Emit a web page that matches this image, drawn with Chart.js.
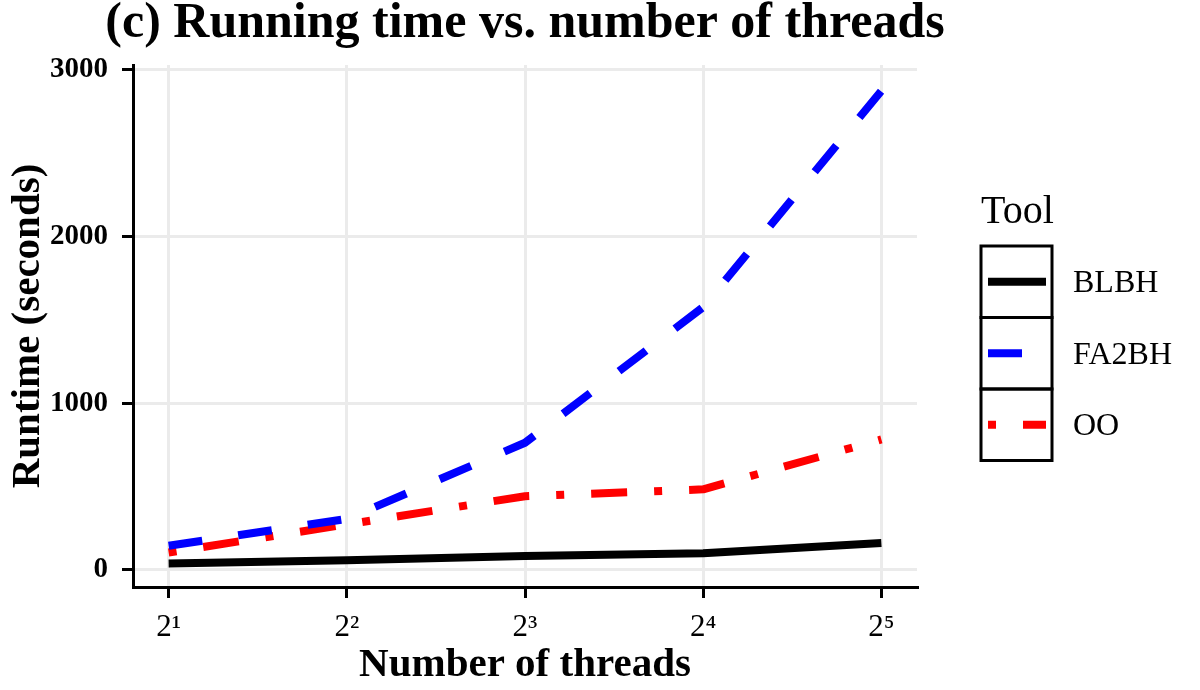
<!DOCTYPE html>
<html>
<head>
  <title>Running time vs. number of threads</title>
  <script src="https://cdn.jsdelivr.net/npm/chart.js"></script>
  <style>
    body { margin: 0; background: #fff; }
  </style>
</head>
<body>
  <canvas id="runtimeChart" width="1200" height="690"></canvas>
  <script>
    // x positions are log2(threads)
    const exponents = [1, 2, 3, 4, 5];
    const tickLabels = ['2\u00B9', '2\u00B2', '2\u00B3', '2\u2074', '2\u2075'];
    const yTicks = [0, 1000, 2000, 3000];

    const blbh = [39, 58, 84, 100, 161];
    const fa2bh = [145, 306, 762, 1575, 2870];
    const oo = [105, 273, 442, 483, 782];

    const serif = '"Liberation Serif", "DejaVu Serif", serif';

    function points(values) {
      return exponents.map((x, i) => ({ x: x, y: values[i] }));
    }

    // title centred over the panel + boxed legend on the right, ggplot style
    const decorPlugin = {
      id: 'decor',
      afterDraw(chart) {
        const ctx = chart.ctx;
        const area = chart.chartArea;
        ctx.save();
        ctx.fillStyle = '#000';
        ctx.textAlign = 'center';
        ctx.textBaseline = 'alphabetic';
        ctx.font = 'bold 50px ' + serif;
        ctx.fillText('(c) Running time vs. number of threads', (area.left + area.right) / 2, 37);

        const left = 981, boxW = 71, boxH = 71.5, top = 246;
        ctx.textAlign = 'left';
        ctx.font = '40px ' + serif;
        ctx.fillText('Tool', left, 223);

        ctx.font = '32px ' + serif;
        ctx.textBaseline = 'middle';
        chart.data.datasets.forEach((ds, i) => {
          const y0 = top + i * boxH;
          ctx.lineWidth = 3;
          ctx.strokeStyle = '#000';
          ctx.setLineDash([]);
          ctx.strokeRect(left, y0, boxW, boxH);

          ctx.beginPath();
          ctx.lineWidth = ds.borderWidth;
          ctx.lineCap = 'butt';
          ctx.strokeStyle = ds.borderColor;
          ctx.setLineDash(ds.borderDash || []);
          ctx.moveTo(left + 7, y0 + boxH / 2);
          ctx.lineTo(left + boxW - 6, y0 + boxH / 2);
          ctx.stroke();

          ctx.setLineDash([]);
          ctx.fillStyle = '#000';
          ctx.fillText(ds.label, 1073, y0 + boxH / 2 + 2);
        });
        ctx.restore();
      }
    };

    new Chart(document.getElementById('runtimeChart').getContext('2d'), {
      type: 'line',
      data: {
        datasets: [
          {
            label: 'BLBH',
            data: points(blbh),
            borderColor: '#000000',
            borderWidth: 8,
            borderDash: []
          },
          {
            label: 'FA2BH',
            data: points(fa2bh),
            borderColor: '#0000FF',
            borderWidth: 8,
            borderDash: [34, 36.3]
          },
          {
            label: 'OO',
            data: points(oo),
            borderColor: '#FF0000',
            borderWidth: 8,
            borderDash: [8, 27, 36, 27]
          }
        ]
      },
      options: {
        responsive: false,
        animation: false,
        layout: { padding: { top: 65, right: 283, bottom: 0, left: 0 } },
        elements: {
          line: { tension: 0, borderCapStyle: 'butt', borderJoinStyle: 'round', fill: false },
          point: { radius: 0, hoverRadius: 0 }
        },
        plugins: {
          legend: { display: false },
          title: { display: false },
          tooltip: { enabled: false }
        },
        scales: {
          x: {
            type: 'linear',
            min: 0.8,
            max: 5.2,
            afterBuildTicks: axis => { axis.ticks = exponents.map(v => ({ value: v })); },
            afterFit: axis => { axis.height = 103; },
            grid: { color: '#EBEBEB', lineWidth: 3, tickColor: '#000', tickWidth: 3, tickLength: 11 },
            border: { color: '#000', width: 3 },
            ticks: {
              color: '#000',
              padding: 11,
              font: { family: serif, size: 31 },
              callback: (v) => tickLabels[exponents.indexOf(v)]
            },
            title: {
              display: true,
              text: 'Number of threads',
              color: '#000',
              padding: { top: 0, bottom: 4 },
              font: { family: serif, size: 41, weight: 'bold', lineHeight: 1 }
            }
          },
          y: {
            min: -102,
            max: 3025,
            afterBuildTicks: axis => { axis.ticks = yTicks.map(v => ({ value: v })); },
            afterFit: axis => { axis.width = 133; },
            grid: { color: '#EBEBEB', lineWidth: 3, tickColor: '#000', tickWidth: 3, tickLength: 11 },
            border: { color: '#000', width: 3 },
            ticks: {
              color: '#000',
              padding: 14,
              font: { family: serif, size: 29, weight: 'bold' },
              callback: (v) => String(v)
            },
            title: {
              display: true,
              text: 'Runtime (seconds)',
              color: '#000',
              padding: { top: 8, bottom: 0 },
              font: { family: serif, size: 41, weight: 'bold', lineHeight: 1 }
            }
          }
        }
      },
      plugins: [decorPlugin]
    });
  </script>
</body>
</html>
